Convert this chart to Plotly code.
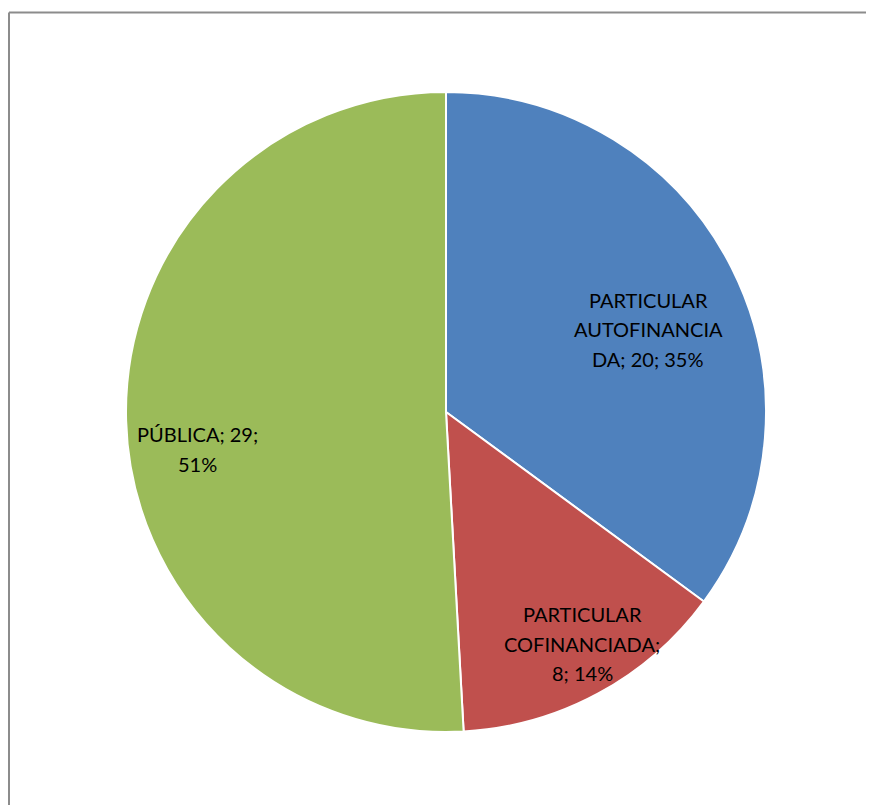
import plotly.graph_objects as go

# page body has an 8px margin; figure fills the rest of the 874x805 window
OFF = 8
W, H = 874 - OFF, 805 - OFF

categories = ["PARTICULAR AUTOFINANCIADA", "PARTICULAR COFINANCIADA", "PÚBLICA"]
values = [20, 8, 29]
colors = ["#4F81BD", "#C0504D", "#9BBB59"]
# label lines as wrapped in the original chart
label_lines = [
    ["PARTICULAR", "AUTOFINANCIA", "DA; 20; 35%"],
    ["PARTICULAR", "COFINANCIADA;", "8; 14%"],
    ["PÚBLICA; 29;", "51%"],
]
# label block positions in window pixels (x centre, first-line centre y)
label_pos = [(648, 300), (582, 614), (197, 434)]
line_step = 29.5


def px(x):
    return (x - OFF) / W


def py(y):
    return 1 - (y - OFF) / H


fig = go.Figure()
fig.add_trace(go.Pie(
    labels=categories,
    values=values,
    sort=False,
    direction="clockwise",
    rotation=0,
    marker=dict(colors=colors, line=dict(color="white", width=2)),
    textinfo="none",
    hoverinfo="label+value+percent",
    showlegend=False,
    domain=dict(x=[px(126), px(766)], y=[py(732), py(92)]),
))

annotations = []
for lines, (lx, ly) in zip(label_lines, label_pos):
    for i, ln in enumerate(lines):
        annotations.append(dict(
            x=px(lx), y=py(ly + i * line_step),
            xref="paper", yref="paper",
            text=ln, showarrow=False,
            xanchor="center", yanchor="middle",
            font=dict(family="Lato", size=20, color="#000000"),
        ))

border = dict(color="#8C8C8C", width=2)
fig.update_layout(
    width=W, height=H,
    margin=dict(l=0, r=0, t=0, b=0),
    paper_bgcolor="white",
    plot_bgcolor="white",
    annotations=annotations,
    shapes=[
        dict(type="line", xref="paper", yref="paper",
             x0=px(9), x1=1.0, y0=py(12.5), y1=py(12.5), line=border),
        dict(type="line", xref="paper", yref="paper",
             x0=px(9), x1=px(9), y0=0.0, y1=py(12.5), line=border),
    ],
)

fig.write_html("out.html", post_script="document.documentElement.style.overflow='hidden';document.body.style.overflow='hidden';")
